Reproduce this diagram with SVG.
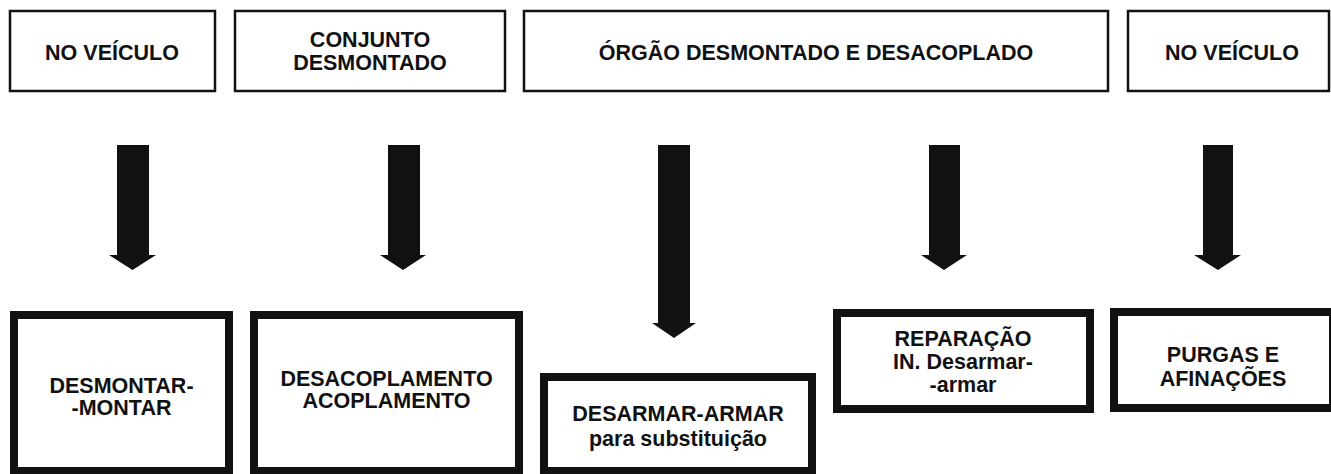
<svg xmlns="http://www.w3.org/2000/svg" width="1331" height="474" viewBox="0 0 1331 474">
<defs>
<style>
.top{fill:#fff;stroke:#111;stroke-width:2.5}
.bot{fill:#fff;stroke:#111;stroke-width:8}
.t{font-family:"Liberation Sans",Arial,Helvetica,sans-serif;font-weight:bold;font-size:21.5px;fill:#111;text-anchor:middle}
.arr{fill:#111}
</style>
</defs>
<rect width="1331" height="474" fill="#fff"/>

<g id="top1"><rect class="top" x="10" y="11" width="205" height="80"/><text class="t" x="112" y="60">NO VEÍCULO</text></g>
<g id="top2"><rect class="top" x="235" y="11" width="270" height="80"/><text class="t" x="370" y="47">CONJUNTO</text><text class="t" x="370" y="70">DESMONTADO</text></g>
<g id="top3"><rect class="top" x="524" y="11" width="584" height="80"/><text class="t" x="816" y="60">ÓRGÃO DESMONTADO E DESACOPLADO</text></g>
<g id="top4"><rect class="top" x="1128" y="11" width="201" height="80"/><text class="t" x="1232" y="60">NO VEÍCULO</text></g>

<g id="connectors">
<path class="arr" d="M117,145H149V255H156L132.5,270L109,255H117Z"/>
<path class="arr" d="M388,145H420V255H426L403,270L380,255H388Z"/>
<path class="arr" d="M658,145H690V323H696L674,338L652,323H658Z"/>
<path class="arr" d="M929,145H960V255H967L944,270L921,255H929Z"/>
<path class="arr" d="M1203,145H1233V255H1241L1218,270L1194,255H1203Z"/>
</g>

<g id="b1"><rect class="bot" x="14" y="315" width="215" height="156"/><text class="t" x="121.5" y="393">DESMONTAR-</text><text class="t" x="121.5" y="415">-MONTAR</text></g>
<g id="b2"><rect class="bot" x="254" y="315" width="265" height="156"/><text class="t" x="386.5" y="386">DESACOPLAMENTO</text><text class="t" x="386.5" y="408">ACOPLAMENTO</text></g>
<g id="b3"><rect class="bot" x="544" y="377" width="268" height="94"/><text class="t" x="678" y="421">DESARMAR-ARMAR</text><text class="t" x="678" y="446">para substituição</text></g>
<g id="b4"><rect class="bot" x="837" y="313" width="253" height="96"/><text class="t" x="963" y="346">REPARAÇÃO</text><text class="t" x="963" y="369">IN. Desarmar-</text><text class="t" x="963" y="392">-armar</text></g>
<g id="b5"><rect class="bot" x="1114" y="312" width="219" height="96"/><text class="t" x="1223" y="362">PURGAS E</text><text class="t" x="1223" y="386">AFINAÇÕES</text></g>
</svg>
